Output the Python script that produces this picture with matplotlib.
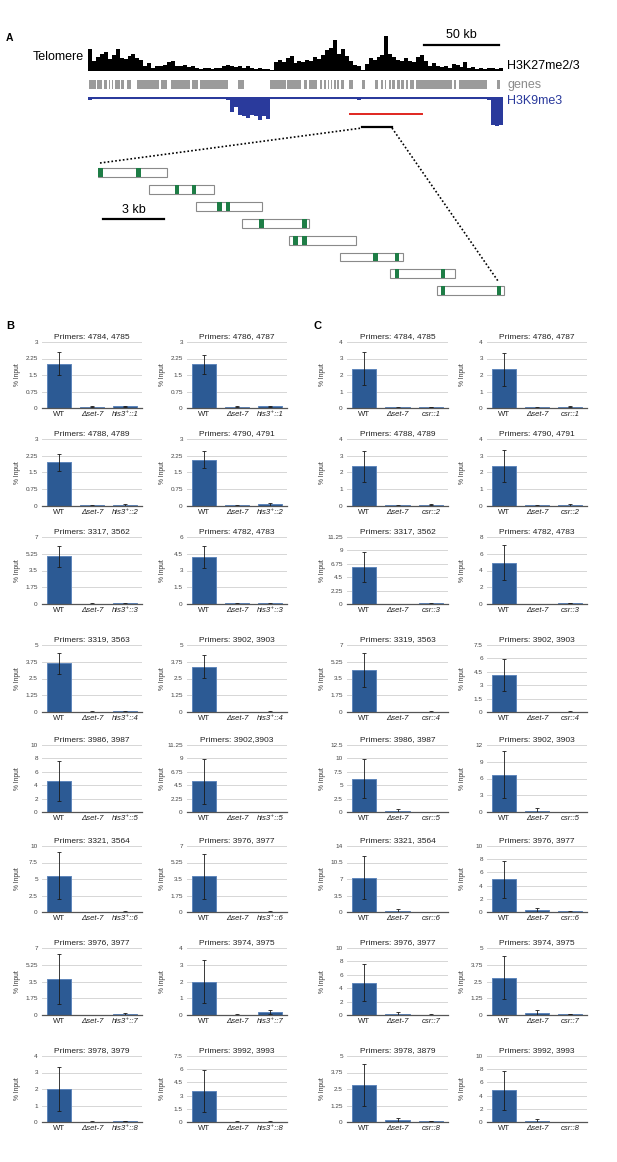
import numpy as np
import matplotlib
matplotlib.use('Agg')
import matplotlib.pyplot as plt

plt.rcParams['font.family'] = ['Liberation Sans', 'DejaVu Sans']

# ---------------- Panel A data ----------------
# H3K27me2/3 signal (relative units), equal genomic bins
h3k27 = [62, 30, 40, 50, 55, 35, 45, 62, 38, 35, 42, 48, 38, 32, 15, 22, 10, 15, 13, 18,
         25, 30, 15, 13, 18, 12, 14, 10, 6, 8, 10, 6, 10, 8, 15, 18, 15, 12, 14, 10,
         13, 8, 6, 10, 6, 7, 2, 25, 32, 25, 38, 42, 22, 30, 25, 32, 28, 40, 35, 45,
         60, 65, 88, 50, 62, 42, 30, 18, 15, 2, 20, 38, 32, 40, 45, 100, 50, 40, 32, 30,
         38, 30, 25, 40, 45, 30, 15, 22, 15, 12, 15, 10, 20, 18, 12, 25, 10, 12, 7, 10,
         6, 8, 10, 7, 9]
# H3K9me3 signal (relative units), same bins
h3k9 = [8, 6, 7, 5, 6, 5, 6, 5, 7, 6, 5, 6, 5, 6, 5, 7, 5, 6, 5, 5, 6, 5, 7, 5, 6, 5, 6, 5, 6, 5,
        7, 5, 6, 6, 5, 9,
        45, 30, 55, 58, 62, 55, 58, 70, 58, 65,
        5, 6, 5, 6, 5, 7, 5, 6, 5, 6, 5, 6, 5, 7, 5, 5, 6, 5, 6, 5, 6, 5, 8, 5, 6, 5, 6, 5, 6, 5,
        7, 5, 6, 5, 6, 5, 6, 5, 7, 5, 6, 5, 6, 5, 6, 5, 7, 5, 6, 5, 6, 5, 6, 5, 6,
        8, 85, 88, 85]
BIN_KB = 2.63
# genes (kb start, kb end)
gene_start = [0.5, 6.3, 10.5, 13.7, 15.8, 17.9, 22.1, 25.8, 32.6, 48.4, 55.3, 69.5, 74.7, 100.0,
              121.0, 132.6, 143.6, 147.3, 154.2, 157.3, 159.5, 161.6, 163.7, 165.8, 168.4, 173.7,
              182.0, 190.7, 194.7, 197.3, 200.0, 202.6, 205.7, 208.4, 211.5, 214.4, 218.3, 243.6,
              247.2, 272.3]
gene_end = [5.3, 9.5, 12.6, 14.7, 16.8, 21.1, 24.2, 28.9, 47.4, 52.6, 67.9, 73.1, 93.4, 103.9,
            131.5, 142.0, 146.0, 152.6, 155.7, 158.4, 160.5, 162.6, 164.7, 167.0, 170.5, 176.3,
            184.2, 193.3, 196.0, 198.6, 201.3, 204.2, 207.3, 210.0, 213.0, 217.0, 242.0, 245.0,
            265.6, 274.0]
# fragments (kb) and primer positions (kb)
frag_start = [0.0, 2.5, 4.83, 7.1, 9.4, 11.9, 14.4, 16.7]
frag_end = [3.4, 5.7, 8.1, 10.4, 12.7, 15.0, 17.6, 20.0]
primer_a = [0.12, 3.9, 5.98, 8.05, 9.73, 13.67, 14.73, 17.0]
primer_b = [2.0, 4.73, 6.4, 10.17, 10.17, 14.73, 17.0, 19.75]

# ---------------- Panels B / C data ----------------
categories_B = ['WT', 'Δset-7', 'his3⁺::{k}']
categories_C = ['WT', 'Δset-7', 'csr::{k}']

B_titles = ['Primers: 4784, 4785', 'Primers: 4786, 4787', 'Primers: 4788, 4789', 'Primers: 4790, 4791',
            'Primers: 3317, 3562', 'Primers: 4782, 4783', 'Primers: 3319, 3563', 'Primers: 3902, 3903',
            'Primers: 3986, 3987', 'Primers: 3902,3903', 'Primers: 3321, 3564', 'Primers: 3976, 3977',
            'Primers: 3976, 3977', 'Primers: 3974, 3975', 'Primers: 3978, 3979', 'Primers: 3992, 3993']
B_ymax = [3, 3, 3, 3, 7, 6, 5, 5, 10, 11.25, 10, 7, 7, 4, 4, 7.5]
B_nint = [4, 4, 4, 4, 4, 4, 4, 4, 5, 5, 4, 4, 4, 4, 4, 5]
B_wt = [2.02, 1.98, 1.95, 2.08, 4.98, 4.2, 3.63, 3.38, 4.65, 5.18, 5.5, 3.78, 3.8, 2.0, 1.99, 3.55]
B_wt_err = [0.53, 0.45, 0.38, 0.37, 1.1, 0.95, 0.78, 0.85, 3.0, 3.77, 3.6, 2.4, 2.6, 1.3, 1.35, 2.4]
B_del = [0.05, 0.05, 0.03, 0.03, 0.05, 0.05, 0.03, 0.02, 0.05, 0.05, 0.02, 0.01, 0.02, 0.02, 0.03, 0.05]
B_del_err = [0.02, 0.02, 0.01, 0.02, 0.02, 0.02, 0.02, 0.01, 0.02, 0.02, 0.01, 0.01, 0.01, 0.02, 0.01, 0.02]
B_ins = [0.07, 0.07, 0.06, 0.07, 0.07, 0.08, 0.05, 0.03, 0.05, 0.05, 0.05, 0.05, 0.12, 0.15, 0.06, 0.05]
B_ins_err = [0.04, 0.04, 0.05, 0.05, 0.03, 0.04, 0.03, 0.02, 0.02, 0.02, 0.03, 0.03, 0.1, 0.12, 0.02, 0.02]

C_titles = ['Primers: 4784, 4785', 'Primers: 4786, 4787', 'Primers: 4788, 4789', 'Primers: 4790, 4791',
            'Primers: 3317, 3562', 'Primers: 4782, 4783', 'Primers: 3319, 3563', 'Primers: 3902, 3903',
            'Primers: 3986, 3987', 'Primers: 3902, 3903', 'Primers: 3321, 3564', 'Primers: 3976, 3977',
            'Primers: 3976, 3977', 'Primers: 3974, 3975', 'Primers: 3978, 3879', 'Primers: 3992, 3993']
C_ymax = [4, 4, 4, 4, 11.25, 8, 7, 7.5, 12.5, 12, 14, 10, 10, 5, 5, 10]
C_nint = [4, 4, 4, 4, 5, 4, 4, 5, 5, 4, 4, 5, 5, 4, 4, 5]
C_wt = [2.38, 2.34, 2.36, 2.41, 6.15, 4.95, 4.38, 4.1, 6.25, 6.7, 7.3, 4.95, 4.85, 2.78, 2.8, 4.8]
C_wt_err = [1.01, 1.01, 0.94, 0.95, 2.5, 2.12, 1.82, 1.8, 3.58, 4.15, 4.5, 2.85, 2.75, 1.6, 1.6, 2.95]
C_del = [0.04, 0.04, 0.03, 0.03, 0.01, 0.02, 0.02, 0.02, 0.2, 0.25, 0.25, 0.3, 0.15, 0.15, 0.12, 0.12]
C_del_err = [0.02, 0.02, 0.02, 0.02, 0.01, 0.02, 0.01, 0.01, 0.35, 0.4, 0.4, 0.25, 0.3, 0.2, 0.2, 0.35]
C_ins = [0.06, 0.07, 0.07, 0.06, 0.1, 0.12, 0.05, 0.05, 0.05, 0.05, 0.05, 0.08, 0.07, 0.07, 0.07, 0.05]
C_ins_err = [0.02, 0.03, 0.04, 0.04, 0.05, 0.05, 0.03, 0.03, 0.02, 0.02, 0.02, 0.03, 0.02, 0.03, 0.03, 0.02]

# ---------------- figure ----------------
W, H = 617, 1162
fig = plt.figure(figsize=(W / 100, H / 100), dpi=100)


def px_axes(x0, y0, x1, y1):
    return fig.add_axes([x0 / W, 1 - y1 / H, (x1 - x0) / W, (y1 - y0) / H])


overlay = fig.add_axes([0, 0, 1, 1], zorder=-1)
overlay.set_xlim(0, W)
overlay.set_ylim(H, 0)
overlay.axis('off')

TRACK_X0, TRACK_X1 = 88, 503
n_bins = len(h3k27)
total_kb = n_bins * BIN_KB
bin_left = np.arange(n_bins) * BIN_KB

# H3K27 track
ax27 = px_axes(TRACK_X0, 36, TRACK_X1, 71)
ax27.bar(bin_left, h3k27, width=BIN_KB, align='edge', color='black', linewidth=0)
ax27.axhline(0, color='black', lw=1.2)
ax27.set_xlim(0, total_kb)
ax27.set_ylim(0, 100)
ax27.axis('off')

# genes
axg = px_axes(TRACK_X0, 80, TRACK_X1, 89)
axg.broken_barh([(s, e - s) for s, e in zip(gene_start, gene_end)], (0, 1), color='#9b9b9b', linewidth=0)
axg.set_xlim(0, total_kb)
axg.set_ylim(0, 1)
axg.axis('off')

# H3K9me3 track
BLUE9 = '#2a3a9c'
ax9 = px_axes(TRACK_X0, 97, TRACK_X1, 127)
ax9.bar(bin_left, h3k9, width=BIN_KB, align='edge', color=BLUE9, linewidth=0)
ax9.axhline(0, color=BLUE9, lw=2.2)
ax9.set_xlim(0, total_kb)
ax9.set_ylim(90, 0)
ax9.axis('off')

# labels panel A
overlay.text(6, 38, 'A', fontsize=7.5, fontweight='bold', va='center')
overlay.text(84, 57, 'Telomere', fontsize=9, ha='right', va='center')
overlay.text(507, 66, 'H3K27me2/3', fontsize=9, ha='left', va='center')
overlay.text(507, 85, 'genes', fontsize=9, ha='left', va='center', color='#8c8c8c')
overlay.text(507, 101, 'H3K9me3', fontsize=9, ha='left', va='center', color=BLUE9)
overlay.plot([424, 499], [45, 45], color='black', lw=1.6)
overlay.text(461, 35, '50 kb', fontsize=9, ha='center', va='center')
overlay.plot([350, 422], [114, 114], color='#e0261f', lw=1.4)
overlay.plot([362, 392], [127, 127], color='black', lw=1.6)
overlay.plot([100, 362], [163, 128], color='black', lw=1.2, ls=(0, (1, 1.3)))
overlay.plot([392, 498], [128, 281], color='black', lw=1.2, ls=(0, (1, 1.3)))

# fragments
ROW_H = 16.9
axf = px_axes(98, 164.05, 98 + 20.3 * 20.1, 164.05 + 8 * ROW_H)
rows = np.arange(len(frag_start))
axf.barh(rows, np.array(frag_end) - np.array(frag_start), left=frag_start, height=0.53,
         color='white', edgecolor='#8a8a8a', linewidth=0.8, zorder=2)
PW = 0.22
axf.barh(rows, PW, left=np.array(primer_a) - PW / 2, height=0.53, color='#1e7d46', linewidth=0, zorder=3)
axf.barh(rows, PW, left=np.array(primer_b) - PW / 2, height=0.53, color='#1e7d46', linewidth=0, zorder=3)
axf.plot([0.25, 3.25], [2.75, 2.75], color='black', lw=1.6)
axf.text(1.75, 2.2, '3 kb', fontsize=9, ha='center', va='center')
axf.set_xlim(0, 20.1)
axf.set_ylim(7.5, -0.5)
axf.axis('off')

# ---------------- Panels B / C ----------------
BAR = '#2c5a94'
EDGE = '#5f86bb'
rows_top = [342, 439, 537, 645, 745, 846, 948, 1056]
rows_bot = [408, 506, 604, 712, 812, 912, 1015, 1122]
cols = [(42, 142), (187, 287), (347, 448), (487, 587)]

overlay.text(6, 326, 'B', fontsize=8, fontweight='bold', va='center')
overlay.text(313, 326, 'C', fontsize=8, fontweight='bold', va='center')


def draw_panel(ax, title, ymax, nint, vals, errs, labels):
    x = np.arange(3)
    ax.bar(x, vals, width=0.72, color=BAR, edgecolor=EDGE, linewidth=0.7, zorder=2)
    ax.errorbar(x, vals, yerr=errs, fmt='none', ecolor='#1a1a1a', elinewidth=0.6,
                capsize=1.3, capthick=0.6, zorder=3)
    ax.set_xlim(-0.5, 2.5)
    ax.set_ylim(0, ymax)
    ticks = np.linspace(0, ymax, nint + 1)
    ax.set_yticks(ticks)
    ax.set_yticklabels([f'{t:g}' for t in ticks])
    ax.grid(axis='y', color='#d6d6d6', lw=0.7, zorder=0)
    ax.set_axisbelow(True)
    for s in ['top', 'right', 'left']:
        ax.spines[s].set_visible(False)
    ax.spines['bottom'].set_color('#555555')
    ax.spines['bottom'].set_linewidth(0.9)
    ax.spines['bottom'].set_zorder(4)
    ax.tick_params(axis='y', length=0, labelsize=4.6, labelcolor='#444444', pad=3)
    ax.tick_params(axis='x', length=0, labelsize=5.6, labelcolor='#222222', pad=2.5)
    ax.set_xticks(x)
    ax.set_xticklabels(labels)
    for t in ax.get_xticklabels()[1:]:
        t.set_style('italic')
    ax.set_title(title, fontsize=6, pad=3, color='#222222')
    ax.set_ylabel('% Input', fontsize=4.8, color='#333333')
    ax.yaxis.set_label_coords(-0.21, 0.5)
    ax.patch.set_alpha(0)


for panel, (titles, ymaxs, nints, wt, wte, de, dee, ins, inse, cats) in enumerate([
        (B_titles, B_ymax, B_nint, B_wt, B_wt_err, B_del, B_del_err, B_ins, B_ins_err, categories_B),
        (C_titles, C_ymax, C_nint, C_wt, C_wt_err, C_del, C_del_err, C_ins, C_ins_err, categories_C)]):
    for i in range(16):
        r, c = divmod(i, 2)
        x0, x1 = cols[panel * 2 + c]
        ax = px_axes(x0, rows_top[r], x1, rows_bot[r])
        labels = [cats[0], cats[1], cats[2].replace('{k}', str(r + 1))]
        draw_panel(ax, titles[i], ymaxs[i], nints[i],
                   [wt[i], de[i], ins[i]], [wte[i], dee[i], inse[i]], labels)

fig.savefig('out.png', dpi=100)
